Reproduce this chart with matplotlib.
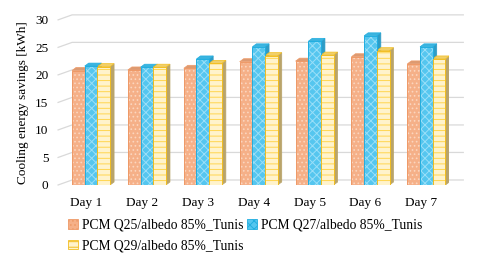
import numpy as np
import matplotlib
matplotlib.use("Agg")
import matplotlib.pyplot as plt
from matplotlib.patches import Polygon, Patch

plt.rcParams['font.family'] = ['Liberation Serif', 'DejaVu Serif']
plt.rcParams['hatch.linewidth'] = 0.7

# data
days = ["Day 1", "Day 2", "Day 3", "Day 4", "Day 5", "Day 6", "Day 7"]
q25 = [20.8, 20.9, 21.2, 22.4, 22.5, 23.3, 22.0]
q27 = [21.6, 21.4, 22.9, 25.1, 26.1, 27.1, 25.1]
q29 = [21.5, 21.4, 22.1, 23.5, 23.6, 24.4, 22.9]
labels = ["PCM Q25/albedo 85%_Tunis", "PCM Q27/albedo 85%_Tunis", "PCM Q29/albedo 85%_Tunis"]
yticks = [0, 5, 10, 15, 20, 25, 30]

# face, hatch colour, hatch, edge, side, top
styles = [
    ("#F5B088", "#FBD5BE", "....", "#EE9A68", "#C98B68", "#DC9A72"),
    ("#55C6EF", "#9ADFF8", "xxxx", "#22AEE0", "#2E9CC6", "#3BB4DF"),
    ("#FFF3CC", "#FFD54F", "---", "#F2BE22", "#B9A46A", "#F0CF6A"),
]

fig = plt.figure(figsize=(4.8, 2.58), dpi=100)
ax = fig.add_axes([0.121, 0.283, 0.815, 0.64])
ax.set_xlim(-0.5, 6.5)
ax.set_ylim(0, 30)

# pixel -> data helpers for the fake 3D depth
px_x = 7 / (0.815 * 480)
px_y = 30 / (0.64 * 258)
bdx, bdy = 4 * px_x, 3 * px_y
gdx, gdy = 14 * px_x, 5 * px_y

# back wall gridlines
for v in yticks:
    ax.plot([-0.5, -0.5 + gdx, 6.5 + gdx], [v, v + gdy, v + gdy],
            color="#D9D9D9", lw=0.9, clip_on=False, zorder=0)

x = np.arange(len(days))
w = 0.227
shift = 0.09
series = [q25, q27, q29]
handles = []
for i, (vals, st) in enumerate(zip(series, styles)):
    face, hc, hatch, edge, side, top = st
    xs = x + shift + (i - 1) * w
    ax.bar(xs, vals, w, color=face, edgecolor=hc, hatch=hatch, lw=0, zorder=2)
    ax.bar(xs, vals, w, fill=False, edgecolor=edge, lw=0.7, zorder=3)
    for xc, v in zip(xs, vals):
        r = xc + w / 2
        l = xc - w / 2
        ax.add_patch(Polygon([[r, 0], [r + bdx, bdy], [r + bdx, v + bdy], [r, v]],
                             closed=True, fc=side, ec=side, lw=0.5, zorder=1.5))
        ax.add_patch(Polygon([[l, v], [l + bdx, v + bdy], [r + bdx, v + bdy], [r, v]],
                             closed=True, fc=top, ec=edge, lw=0.5, zorder=1.5))
    handles.append(Patch(facecolor=face, edgecolor=edge, hatch=hatch, lw=0.6))

ax.set_xticks(x)
ax.set_xticklabels(days)
ax.set_yticks(yticks)
ax.tick_params(length=0, labelsize=9.5)
ax.tick_params(axis='x', pad=9)
ax.tick_params(axis='y', pad=7)
for s in ax.spines.values():
    s.set_visible(False)
ax.set_ylabel("Cooling energy savings [kWh]", fontsize=9.5, labelpad=4)

# legend fills by column: Q25, Q29 in first column, Q27 in second
order = [0, 2, 1]
fig.legend([handles[k] for k in order], [labels[k] for k in order],
           loc="upper left", bbox_to_anchor=(0.128, 0.178),
           ncol=2, frameon=False, fontsize=9.8, handlelength=0.7, handleheight=0.7,
           handletextpad=0.3, columnspacing=0.3, labelspacing=0.55, borderpad=0)

fig.savefig("out.png", dpi=100)
